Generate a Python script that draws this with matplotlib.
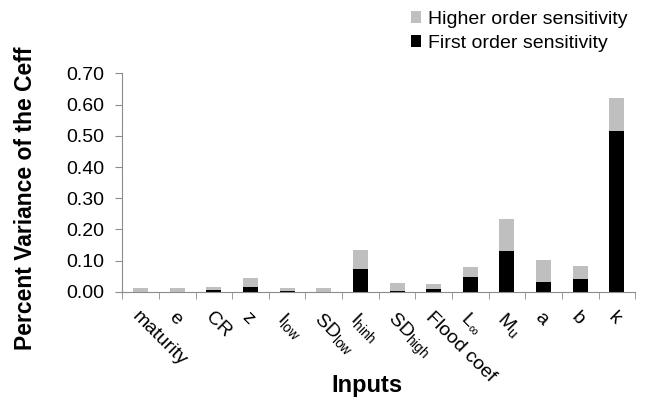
import numpy as np
import matplotlib.pyplot as plt
from matplotlib.ticker import FixedLocator, FormatStrFormatter

plt.rcParams['font.family'] = ['Liberation Sans', 'DejaVu Sans']
plt.rcParams['mathtext.fontset'] = 'custom'
plt.rcParams['mathtext.rm'] = 'Liberation Sans'
plt.rcParams['mathtext.it'] = 'Liberation Sans'
plt.rcParams['mathtext.default'] = 'regular'

# data
inputs = ['maturity', 'e', 'CR', 'z', 'I$_{low}$', 'SD$_{low}$', 'I$_{hinh}$',
          'SD$_{high}$', 'Flood coef', 'L$_{\\infty}$', 'M$_{u}$', 'a', 'b', 'k']
first_order = [0.0, 0.0, 0.005, 0.014, 0.004, 0.0, 0.072,
               0.003, 0.008, 0.046, 0.130, 0.031, 0.041, 0.517]
total = [0.011, 0.011, 0.016, 0.043, 0.013, 0.013, 0.135,
         0.027, 0.024, 0.080, 0.234, 0.102, 0.083, 0.620]
higher_order = [t - f for t, f in zip(total, first_order)]

gray = '#bfbfbf'
axis_col = '#8c8c8c'

fig = plt.figure(figsize=(6.61, 3.97), dpi=100)
ax = fig.add_axes([0.185, 0.265, 0.776, 0.55])

x = np.arange(len(inputs))
ax.bar(x, first_order, width=0.41, color='black', label='First order sensitivity')
ax.bar(x, higher_order, width=0.41, bottom=first_order, color=gray,
       label='Higher order sensitivity')

ax.set_xlim(-0.5, len(inputs) - 0.5)
ax.set_ylim(0, 0.70)
ax.set_yticks(np.arange(0, 0.71, 0.1))
ax.yaxis.set_major_formatter(FormatStrFormatter('%.2f'))

ax.set_xticks(x)
ax.set_xticklabels(inputs, rotation=-45, ha='left', va='top', rotation_mode='anchor')
ax.xaxis.set_minor_locator(FixedLocator(np.arange(-0.5, len(inputs), 1.0)))
ax.tick_params(axis='x', which='major', length=0, pad=12, labelsize=14)
ax.tick_params(axis='x', which='minor', length=5, color=axis_col, direction='out')
ax.tick_params(axis='y', length=5, color=axis_col, labelsize=14, pad=8)

for s in ['top', 'right']:
    ax.spines[s].set_visible(False)
for s in ['left', 'bottom']:
    ax.spines[s].set_color(axis_col)

ax.set_ylabel('Percent Variance of the Ceff', fontsize=16.5, fontweight='bold')
ax.yaxis.set_label_coords(-0.167, 0.43)
ax.set_xlabel('Inputs', fontsize=17, fontweight='bold')
ax.xaxis.set_label_coords(0.477, -0.378)

handles, labels = ax.get_legend_handles_labels()
ax.legend(handles[::-1], labels[::-1], loc='upper right', bbox_to_anchor=(1.0, 1.323),
          frameon=False, fontsize=14, handlelength=0.5, handleheight=0.6,
          handletextpad=0.35, labelspacing=0.35, borderaxespad=0)

fig.savefig('out.png', dpi=100)
